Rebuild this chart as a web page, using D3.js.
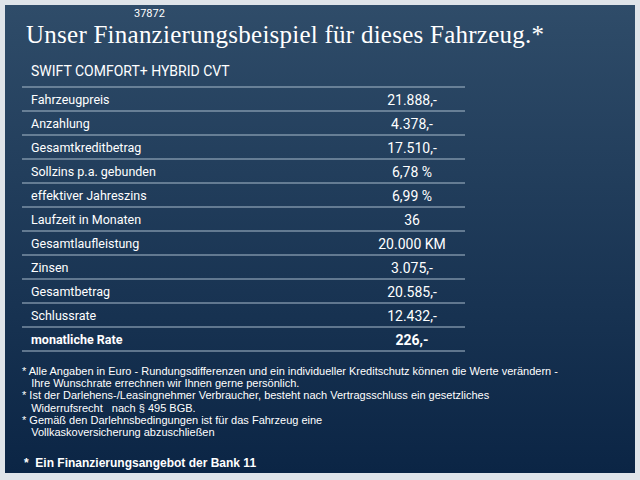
<!DOCTYPE html><html><head><meta charset="utf-8"><script src="https://cdn.jsdelivr.net/npm/d3@7"></script>
<style>body{margin:0;background:#dfe4e9}</style></head><body><svg width="640" height="480"></svg><script>
const labels=["Fahrzeugpreis","Anzahlung","Gesamtkreditbetrag","Sollzins p.a. gebunden","effektiver Jahreszins","Laufzeit in Monaten","Gesamtlaufleistung","Zinsen","Gesamtbetrag","Schlussrate","monatliche Rate"];
const values=["21.888,-","4.378,-","17.510,-","6,78 %","6,99 %","36","20.000 KM","3.075,-","20.585,-","12.432,-","226,-"];
const notes=["* Alle Angaben in Euro - Rundungsdifferenzen und ein individueller Kreditschutz können die Werte verändern -","   Ihre Wunschrate errechnen wir Ihnen gerne persönlich.","* Ist der Darlehens-/Leasingnehmer Verbraucher, besteht nach Vertragsschluss ein gesetzliches","   Widerrufsrecht   nach § 495 BGB.","* Gemäß den Darlehnsbedingungen ist für das Fahrzeug eine","   Vollkaskoversicherung abzuschließen"];
const svg=d3.select("svg");
const defs=svg.append("defs");
const g=defs.append("linearGradient").attr("id","bg").attr("x1",0).attr("y1",0).attr("x2",0).attr("y2",1);
g.append("stop").attr("offset",0).attr("stop-color","#2f4c69");
g.append("stop").attr("offset",1).attr("stop-color","#0b2545");
svg.append("rect").attr("x",5).attr("y",5).attr("width",630).attr("height",468).attr("fill","url(#bg)");
svg.append("text").attr("x",134).attr("y",17).attr("fill","#fff").attr("font-family","Roboto").attr("font-size",11).text("37872");
svg.append("text").attr("x",26).attr("y",43).attr("fill","#fff").attr("font-family","Liberation Serif").attr("font-size",25).attr("textLength",518).text("Unser Finanzierungsbeispiel für dieses Fahrzeug.*");
svg.append("text").attr("x",31).attr("y",76).attr("fill","#fff").attr("font-family","Roboto").attr("font-size",14).text("SWIFT COMFORT+ HYBRID CVT");
const y=d3.scaleBand().domain(labels).range([87,351]);
svg.selectAll("line.r").data([null,...labels]).join("line").attr("x1",22).attr("x2",465)
 .attr("y1",(d,i)=>87+i*y.bandwidth()).attr("y2",(d,i)=>87+i*y.bandwidth()).attr("stroke","#a9bccc").attr("stroke-width",1);
svg.selectAll("text.l").data(labels).join("text").attr("x",31).attr("y",d=>y(d)+17).attr("fill","#fff")
 .attr("font-family","Roboto").attr("font-size",12.5).attr("font-weight",(d,i)=>i==10?"bold":"normal").text(d=>d);
svg.selectAll("text.v").data(values).join("text").attr("x",412).attr("y",(d,i)=>y(labels[i])+18).attr("text-anchor","middle").attr("fill","#fff")
 .attr("font-family","Roboto").attr("font-size",14).attr("font-weight",(d,i)=>i==10?"bold":"normal").text(d=>d);
svg.selectAll("text.n").data(notes).join("text").attr("x",22).attr("y",(d,i)=>375+i*12.2).attr("fill","#fff").attr("xml:space","preserve")
 .attr("font-family","Liberation Sans Narrow, Liberation Sans").attr("font-size",11).text(d=>d);
svg.append("text").attr("x",24).attr("y",467).attr("fill","#fff").attr("font-family","Liberation Sans").attr("font-weight","bold").attr("font-size",12).attr("xml:space","preserve").text("*  Ein Finanzierungsangebot der Bank 11");
</script></body></html>
